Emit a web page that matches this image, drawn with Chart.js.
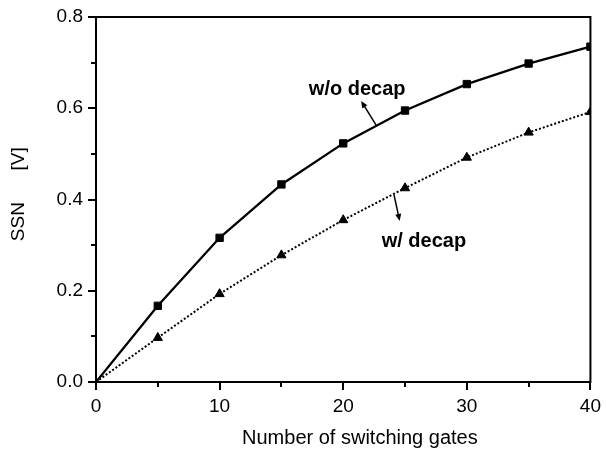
<!DOCTYPE html>
<html><head><meta charset="utf-8">
<script src="https://cdn.jsdelivr.net/npm/chart.js@4/dist/chart.umd.min.js"></script>
<style>html,body{margin:0;padding:0;background:#fff}#wrap{width:606px;height:452px}</style>
</head><body><div id="wrap"><canvas id="c" width="606" height="452"></canvas></div>
<script>
// ---- data ----
const gates = [0, 5, 10, 15, 20, 25, 30, 35, 40];
const ssnWithoutDecap = [0, 0.167, 0.316, 0.433, 0.523, 0.595, 0.653, 0.698, 0.735];
const ssnWithDecap = [0, 0.097, 0.193, 0.278, 0.355, 0.425, 0.492, 0.547, 0.592];
const xTicks = [0, 10, 20, 30, 40];
const yTicks = [0.0, 0.2, 0.4, 0.6, 0.8];
const xMinorTicks = [5, 15, 25, 35];
const yMinorTicks = [0.1, 0.3, 0.5, 0.7];
const labelTexts = ['w/o decap', 'w/ decap'];
const labelAnchors = [[21.13, 0.629], [26.53, 0.296]];   // data coords (x, y of baseline centre)
const arrowFrom = [[22.66, 0.563], [24.11, 0.410]];
const arrowTo = [[21.45, 0.616], [24.57, 0.353]];
const xTitle = 'Number of switching gates';
const yTitle = 'SSN      [V]';

const FONT = "'Liberation Sans', Arial, Helvetica, sans-serif";

const toPts = ys => gates.map((g, i) => ({x: g, y: ys[i]}));

const extras = {
  id: 'extras',
  afterDraw(chart) {
    const {ctx, chartArea: a, scales: {x, y}} = chart;
    ctx.save();
    ctx.strokeStyle = '#000';
    ctx.fillStyle = '#000';
    ctx.lineWidth = 2;
    // frame top & right
    ctx.beginPath();
    ctx.moveTo(a.left - 1, a.top);
    ctx.lineTo(a.right, a.top);
    ctx.lineTo(a.right, a.bottom + 1);
    ctx.stroke();
    // minor ticks
    ctx.beginPath();
    xMinorTicks.forEach(v => {
      const px = Math.round(x.getPixelForValue(v));
      ctx.moveTo(px, a.bottom);
      ctx.lineTo(px, a.bottom + 5);
    });
    yMinorTicks.forEach(v => {
      const py = Math.round(y.getPixelForValue(v));
      ctx.moveTo(a.left - 5, py);
      ctx.lineTo(a.left, py);
    });
    ctx.stroke();
    // annotations
    ctx.font = 'bold 20px ' + FONT;
    ctx.textAlign = 'center';
    ctx.textBaseline = 'alphabetic';
    labelTexts.forEach((t, i) => {
      ctx.fillText(t, x.getPixelForValue(labelAnchors[i][0]), y.getPixelForValue(labelAnchors[i][1]));
      const x1 = x.getPixelForValue(arrowFrom[i][0]), y1 = y.getPixelForValue(arrowFrom[i][1]);
      const x2 = x.getPixelForValue(arrowTo[i][0]), y2 = y.getPixelForValue(arrowTo[i][1]);
      const ang = Math.atan2(y2 - y1, x2 - x1);
      ctx.lineWidth = 1.5;
      ctx.beginPath();
      ctx.moveTo(x1, y1);
      ctx.lineTo(x2 - 5 * Math.cos(ang), y2 - 5 * Math.sin(ang));
      ctx.stroke();
      ctx.beginPath();
      ctx.moveTo(x2, y2);
      ctx.lineTo(x2 - 7 * Math.cos(ang) + 3 * Math.sin(ang), y2 - 7 * Math.sin(ang) - 3 * Math.cos(ang));
      ctx.lineTo(x2 - 7 * Math.cos(ang) - 3 * Math.sin(ang), y2 - 7 * Math.sin(ang) + 3 * Math.cos(ang));
      ctx.closePath();
      ctx.fill();
    });
    ctx.restore();
  }
};

new Chart(document.getElementById('c'), {
  type: 'line',
  data: {
    datasets: [
      {
        label: 'w/o decap',
        data: toPts(ssnWithoutDecap),
        borderColor: '#000', backgroundColor: '#000',
        borderWidth: 2.3,
        pointStyle: 'rect',
        pointRadius: c => (c.raw && c.raw.x === 0 ? 0 : 5.2),
        pointBorderWidth: 1,
        tension: 0,
        clip: 0
      },
      {
        label: 'w/ decap',
        data: toPts(ssnWithDecap),
        borderColor: '#000', backgroundColor: '#000',
        borderWidth: 2,
        borderDash: [2, 2],
        pointStyle: 'triangle',
        pointRadius: c => (c.raw && c.raw.x === 0 ? 0 : 5.3),
        pointBorderWidth: 1,
        tension: 0,
        clip: 0
      }
    ]
  },
  options: {
    responsive: false,
    animation: false,
    devicePixelRatio: 1,
    layout: {padding: {top: 17, right: 14, left: 0, bottom: 0}},
    plugins: {legend: {display: false}, tooltip: {enabled: false}},
    scales: {
      x: {
        type: 'linear', min: 0, max: 40,
        afterBuildTicks: s => { s.ticks = xTicks.map(v => ({value: v})); },
        afterFit: s => { s.height = 70; },
        ticks: {color: '#000', font: {family: FONT, size: 19}, padding: 5, maxRotation: 0,
                callback: v => String(v)},
        grid: {display: true, drawOnChartArea: false, drawTicks: true, tickLength: 8, color: '#000', lineWidth: 2},
        border: {display: true, color: '#000', width: 2},
        title: {display: true, text: '      ' + xTitle, color: '#000', font: {family: FONT, size: 20}, padding: {top: 0, bottom: 1.5}}
      },
      y: {
        type: 'linear', min: 0, max: 0.8,
        afterBuildTicks: s => { s.ticks = yTicks.map(v => ({value: v})); },
        afterFit: s => { s.width = 96; },
        ticks: {color: '#000', font: {family: FONT, size: 19}, padding: 5,
                callback: v => Number(v).toFixed(1)},
        grid: {display: true, drawOnChartArea: false, drawTicks: true, tickLength: 8, color: '#000', lineWidth: 2},
        border: {display: true, color: '#000', width: 2},
        title: {display: true, text: '  ' + yTitle, color: '#000', font: {family: FONT, size: 19}, padding: {top: 7.5, bottom: 0}}
      }
    }
  },
  plugins: [extras]
});
</script>
</body></html>
